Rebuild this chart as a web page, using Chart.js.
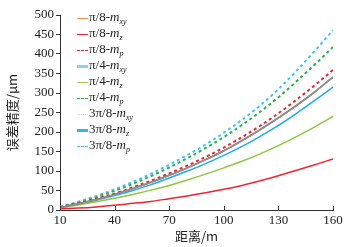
<!DOCTYPE html>
<html>
<head>
<meta charset="utf-8">
<script src="https://cdn.jsdelivr.net/npm/chart.js@4/dist/chart.umd.min.js"></script>
<style>
  body { margin: 0; background: #fff; }
  #wrap { position: relative; width: 351px; height: 247px; }
  #legend { position: absolute; left: 77px; top: 9px; font: 13px "Liberation Serif", serif; color: #222; }
  .item { height: 16px; line-height: 16px; white-space: nowrap; }
  .swatch { display: inline-block; width: 11px; vertical-align: middle; margin-right: 1px; }
  .item i { font-style: italic; }
  .item sub { font-size: 8px; font-style: italic; vertical-align: -3px; }
</style>
</head>
<body>
<div id="wrap">
  <canvas id="chart" width="351" height="247"></canvas>
  <div id="legend"></div>
</div>
<script>
const distances = [10, 20, 30, 40, 50, 60, 70, 80, 90, 100, 110, 120, 130, 140, 150, 160];
const xTicks = [10, 40, 70, 100, 130, 160];

// m_xy is the same for the three angles, the curves lie on top of each other
const mXY    = [6, 16, 27, 40, 55, 71, 89, 108, 129, 152, 178, 206, 236, 268, 303, 341];
const pi8Mz  = [3, 5, 8, 12, 17, 22, 29, 36, 44, 53, 63, 75, 88, 102, 116, 131];
const pi8Mp  = [7, 17, 29, 42, 58, 75, 94, 114, 136, 160, 187, 216, 248, 283, 320, 359];
const pi4Mz  = [6, 13, 21, 30, 40, 51, 63, 77, 92, 108, 125, 144, 165, 188, 213, 240];
const pi4Mp  = [7, 19, 33, 49, 67, 87, 109, 133, 159, 187, 218, 252, 289, 330, 373, 418];
const pi38Mz = [6, 15, 25, 37, 50, 65, 82, 100, 119, 140, 163, 189, 217, 248, 281, 315];
const pi38Mp = [8, 21, 36, 53, 72, 93, 116, 141, 168, 198, 231, 268, 310, 357, 408, 461];

const angles = ["π/8", "π/4", "3π/8"];
const components = ["xy", "z", "p"];
const legendColors = [
  ["#f39244", "#ee2433", "#ee2433"],
  ["#86d0f0", "#9acb52", "#2fae4e"],
  ["#f6c79a", "#37b3ef", "#3fc6f4"],
];
const legendDash = ["solid", "solid", "dashed"];
const legendWidth = [
  [1.5, 1.5, 1.5],
  [3, 1.5, 1.5],
  [1, 3, 1.5],
];

const seriesData = [
  [mXY, pi8Mz, pi8Mp],
  [mXY, pi4Mz, pi4Mp],
  [mXY, pi38Mz, pi38Mp],
];
const plotColors = [
  ["#8e8e8e", "#ee2433", "#ee2433"],
  ["#8e8e8e", "#8dc63f", "#2fae4e"],
  ["#8e8e8e", "#1faaf0", "#3fc6f4"],
];

const datasets = [];
angles.forEach((angle, a) => {
  components.forEach((comp, c) => {
    datasets.push({
      label: angle + "-m" + comp,
      data: distances.map((d, i) => ({ x: d, y: seriesData[a][c][i] })),
      borderColor: plotColors[a][c],
      borderWidth: c == 2 ? 2 : 1.5,
      borderDash: c == 2 ? [3, 3] : [],
      pointRadius: 0,
      cubicInterpolationMode: "monotone",
      fill: false,
    });
  });
});

// html legend so the italic m and the subscript stay real text
const legendEl = document.getElementById("legend");
angles.forEach((angle, a) => {
  components.forEach((comp, c) => {
    const row = document.createElement("div");
    row.className = "item";
    const sw = document.createElement("span");
    sw.className = "swatch";
    const style = a == 2 && c == 0 ? "dotted" : legendDash[c];
    sw.style.borderTop = legendWidth[a][c] + "px " + style + " " + legendColors[a][c];
    row.appendChild(sw);
    row.insertAdjacentHTML("beforeend", angle + "-<i>m</i><sub>" + comp + "</sub>");
    legendEl.appendChild(row);
  });
});

const inwardTicks = {
  id: "inwardTicks",
  afterDraw(chart) {
    const ctx = chart.ctx;
    const xs = chart.scales.x;
    ctx.save();
    ctx.strokeStyle = "#333";
    ctx.lineWidth = 1;
    xs.ticks.forEach((t) => {
      const px = Math.round(xs.getPixelForValue(t.value)) + 0.5;
      ctx.beginPath();
      ctx.moveTo(px, xs.top);
      ctx.lineTo(px, xs.top - 4);
      ctx.stroke();
    });
    ctx.restore();
  },
};

const tickFont = { family: "'Liberation Serif', serif", size: 13 };
const titleFont = { family: "'Noto Sans CJK SC', serif", size: 13 };

new Chart(document.getElementById("chart"), {
  type: "line",
  data: { datasets: datasets },
  options: {
    responsive: false,
    animation: false,
    layout: { padding: { top: 15, right: 18, left: 4, bottom: 3 } },
    plugins: { legend: { display: false }, tooltip: { enabled: false } },
    scales: {
      x: {
        type: "linear",
        min: 10,
        max: 160,
        ticks: { stepSize: 30, font: tickFont, color: "#222", padding: 3, maxRotation: 0 },
        afterBuildTicks: (scale) => { scale.ticks = xTicks.map((v) => ({ value: v })); },
        afterFit: (scale) => { scale.height = 34; },
        grid: { drawOnChartArea: false, drawTicks: false },
        border: { color: "#333", width: 1 },
        title: { display: true, text: "距离/m", font: titleFont, color: "#222", padding: { top: 0, bottom: 0 } },
      },
      y: {
        min: 0,
        max: 500,
        ticks: { stepSize: 50, font: tickFont, color: "#222", padding: 2 },
        afterFit: (scale) => { scale.width = 56; },
        grid: { drawOnChartArea: false, tickLength: 4, color: "#333" },
        border: { color: "#333", width: 1 },
        title: { display: true, text: "误差精度/μm", font: titleFont, color: "#222", padding: { top: 0, bottom: 2 } },
      },
    },
  },
  plugins: [inwardTicks],
});
</script>
</body>
</html>
